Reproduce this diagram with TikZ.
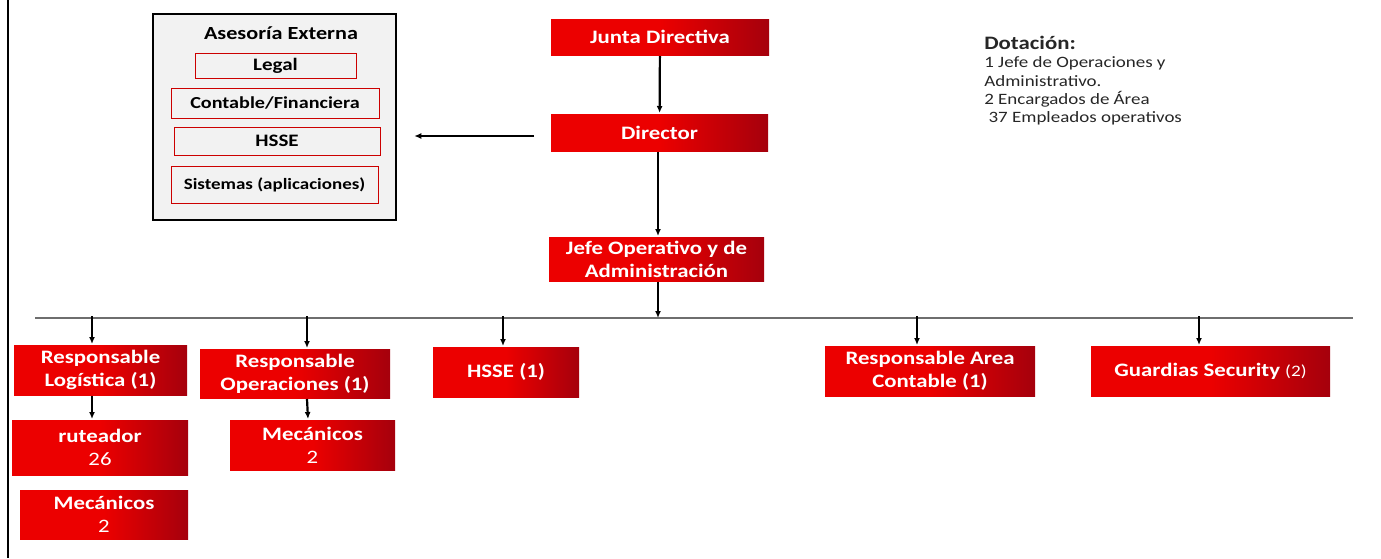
\documentclass[tikz,border=0pt]{standalone}
\usepackage{fontspec}
\setmainfont{Carlito}[FakeStretch=1.2]
\usetikzlibrary{arrows.meta}
\definecolor{boxred}{RGB}{236,0,0}
\definecolor{deepred}{RGB}{165,0,12}
\definecolor{panelgray}{RGB}{242,242,242}
\definecolor{linegray}{RGB}{110,110,110}

\begin{document}
\begin{tikzpicture}[x=1pt, y=-1pt, line width=2pt,
        unit/.style={rectangle, inner sep=0pt, left color=boxred, right color=deepred,
            middle color=boxred, text=white, align=center,
            font=\bfseries\fontsize{19}{23}\selectfont},
        advice/.style={rectangle, draw=red!80!black, line width=1pt, fill=panelgray,
            inner sep=0pt, font=\bfseries\fontsize{17.5}{20}\selectfont},
        arr/.style={-{Latex[length=7pt,width=6pt]}, line width=2.2pt}]
    \useasboundingbox (0,0) rectangle (1381,558);
    \draw[line width=1.5pt] (8,0) -- (8,558);

    % asesoria externa
    \node (panel) [rectangle, draw, line width=2.5pt, fill=panelgray,
        minimum width=243pt, minimum height=206pt] at (274.5,117) {};
    \node (title) [font=\bfseries\fontsize{18.5}{21}\selectfont] at (281,33) {Asesoría Externa};
    \node (legal) [advice, minimum width=161pt, minimum height=25pt] at (275.5,65.5) {Legal};
    \node (conta) [advice, minimum width=208pt, minimum height=30pt] at (275,103) {\fontsize{16.8}{19}\selectfont Contable/Financiera};
    \node (hsse) [advice, minimum width=206pt, minimum height=28pt] at (277,141) {HSSE};
    \node (sist) [advice, minimum width=207pt, minimum height=37pt] at (274.5,184.5) {\fontsize{15.8}{18}\selectfont Sistemas (aplicaciones)};

    \node (junta) [unit, minimum width=218pt, minimum height=36pt] at (660,37) {Junta Directiva};
    \node (director) [unit, minimum width=217pt, minimum height=37pt] at (659.5,132.5) {Director};
    \node (jefe) [unit, minimum width=215pt, minimum height=44pt] at (656.5,259) {Jefe Operativo y de\\Administración};

    \node (dotacion) [anchor=north west, align=left, text=black!85,
        font=\fontsize{15.8}{18.3}\selectfont] at (980,32)
        {{\bfseries\fontsize{19}{21}\selectfont Dotación:}\\1 Jefe de Operaciones y\\Administrativo.\\2 Encargados de Área\\\ 37 Empleados operativos};

    \node (logis) [unit, minimum width=173pt, minimum height=50pt] at (100.5,370) {Responsable\\Logística (1)};
    \node (opera) [unit, minimum width=190pt, minimum height=49pt] at (295,373.5) {Responsable\\Operaciones (1)};
    \node (hsseu) [unit, minimum width=146pt, minimum height=50pt] at (506,372) {HSSE (1)};
    \node (contab) [unit, minimum width=210pt, minimum height=50pt] at (930,371) {Responsable Area\\Contable (1)};
    \node (guard) [unit, minimum width=239pt, minimum height=50pt] at (1210.5,371) {Guardias Security {\mdseries\fontsize{16}{18}\selectfont(2)}};
    \node (rutea) [unit, minimum width=176pt, minimum height=55pt] at (100,447.5) {ruteador\\{\mdseries 26}};
    \node (mecl) [unit, minimum width=168pt, minimum height=49pt] at (104,514.5) {Mecánicos\\{\mdseries 2}};
    \node (mecm) [unit, minimum width=165pt, minimum height=50pt] at (312.5,445) {Mecánicos\\{\mdseries 2}};

    \coordinate (barL) at (35,318);
    \coordinate (barR) at (1353,318);
    \coordinate (d1) at (92,318);
    \coordinate (d2) at (307,318);
    \coordinate (d3) at (503,318);
    \coordinate (d4) at (917,318);
    \coordinate (d5) at (1199,318);
    \draw[linegray, line width=1.6pt] (barL) -- (barR);

    \draw[arr] (junta) -- (director);
    \draw[arr] ([xshift=-1.5pt]director.south) -- ([xshift=1.5pt]jefe.north);
    \draw[arr] ([xshift=-16pt]director.west |- 0,136) -- ([xshift=17pt]panel.east |- 0,136);
    \draw[arr] ([xshift=1.5pt]jefe.south) -- ([xshift=1.5pt]jefe.south |- barL);
    \draw[arr] ([yshift=2pt]d1) -- (d1 |- logis.north);
    \draw[arr] ([yshift=2pt]d2) -- (d2 |- opera.north);
    \draw[arr] ([yshift=2pt]d3) -- (d3 |- hsseu.north);
    \draw[arr] ([yshift=2pt]d4) -- (d4 |- contab.north);
    \draw[arr] ([yshift=2pt]d5) -- (d5 |- guard.north);
    \draw[arr] (d1 |- logis.south) -- (d1 |- rutea.north);
    \draw[arr] (d2 |- opera.south) -- ([xshift=1pt]d2 |- mecm.north);
\end{tikzpicture}
\end{document}
